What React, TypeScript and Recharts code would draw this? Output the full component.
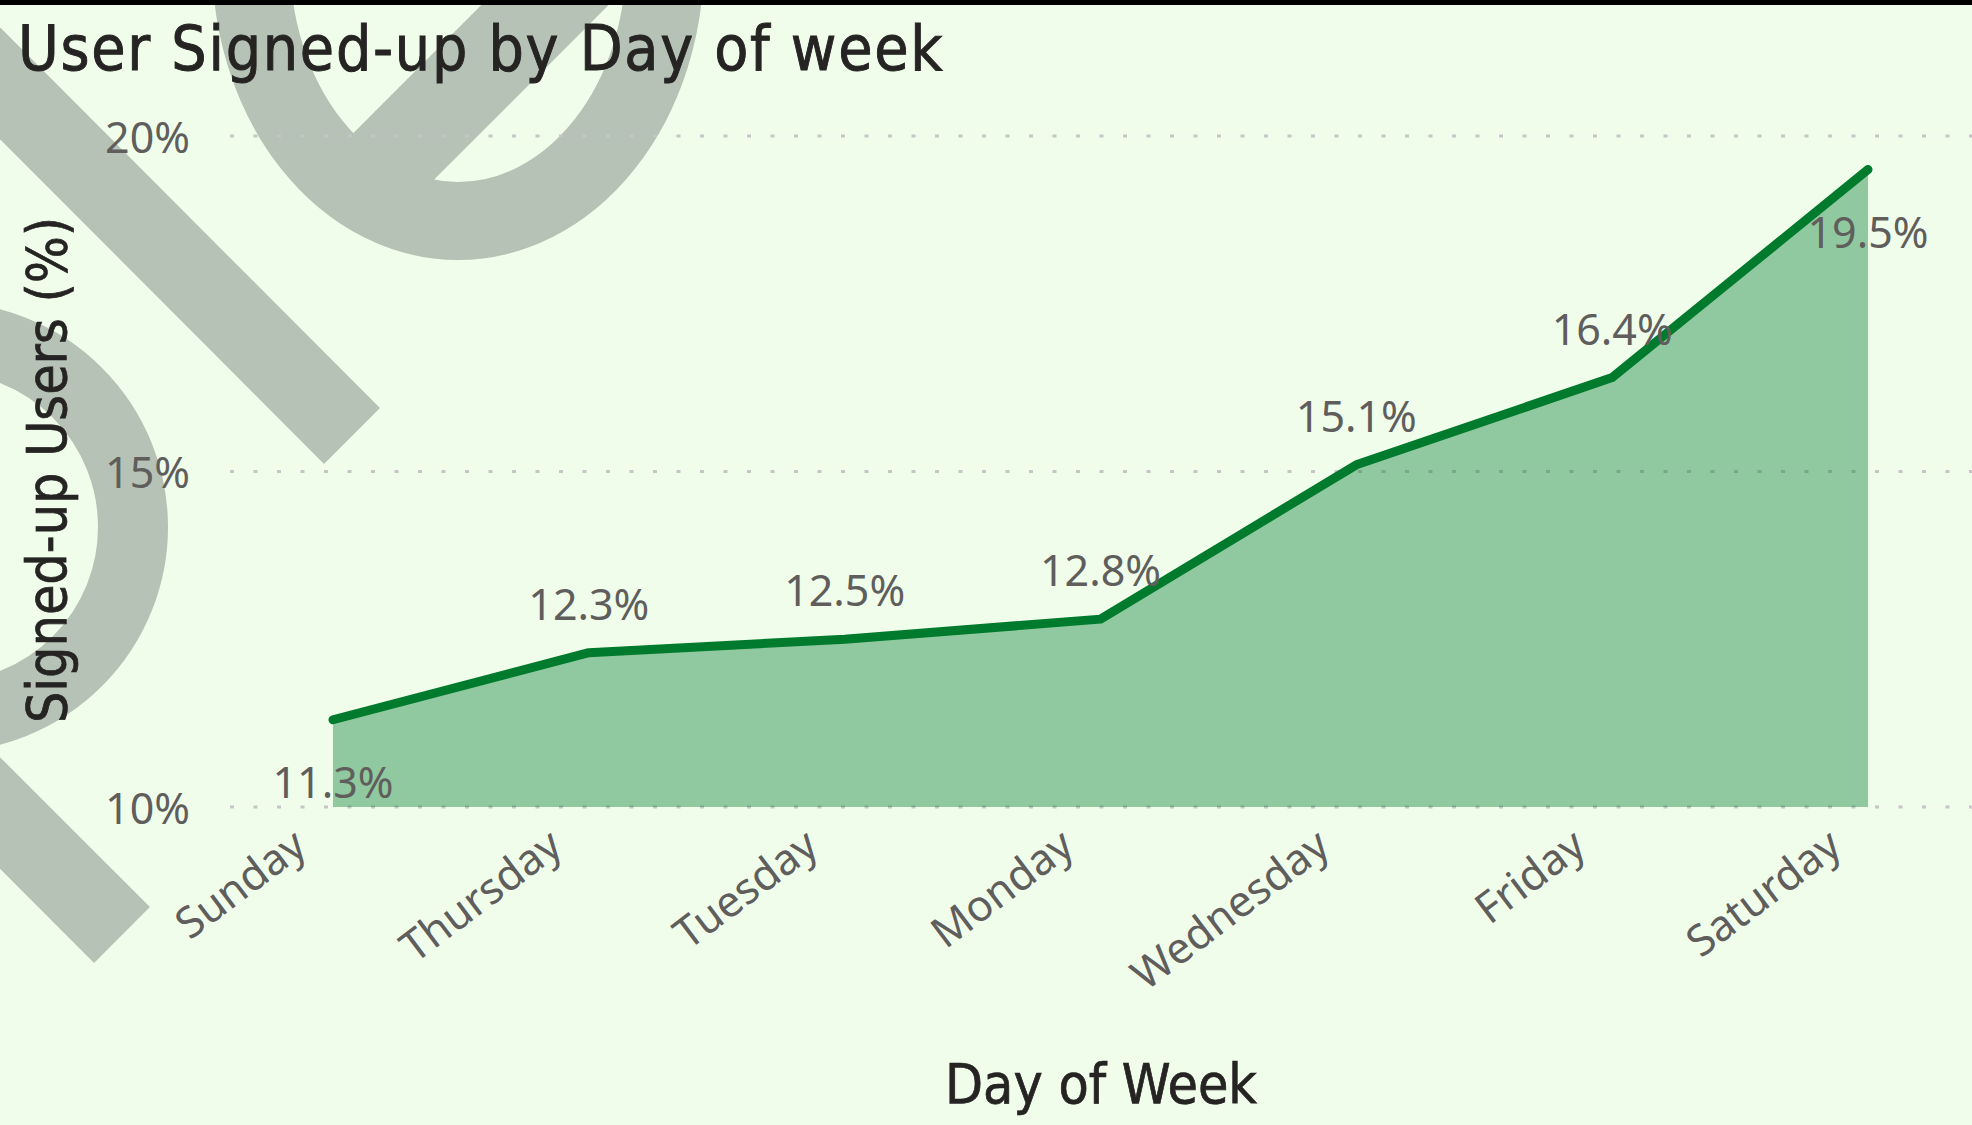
import { AreaChart, Area, XAxis, YAxis, CartesianGrid, LabelList } from "recharts";

const days = ["Sunday", "Thursday", "Tuesday", "Monday", "Wednesday", "Friday", "Saturday"];
const signupPct = [11.3, 12.3, 12.5, 12.8, 15.1, 16.4, 19.5];
const yTicks = [10, 15, 20];

const data = days.map((day, i) => ({ day, pct: signupPct[i] }));

const W = 1972;
const H = 1125;
const BG = "#f0fdeb";
const MARK = "#b6c2b5";
const LINE = "#007a2c";
const LABEL = "#605e5c";
const DARK = "#252423";
const labelFont = "'Noto Sans', 'Open Sans', sans-serif";
const dinFont = "'DejaVu Sans Condensed', 'DejaVu Sans', sans-serif";

function YTick({ x, y, payload }: any) {
  return (
    <text x={x - 32} y={y} textAnchor="end" dominantBaseline="central" fontSize={43} fontFamily={labelFont} fill={LABEL}>
      {payload.value}%
    </text>
  );
}

function XTick({ x, y, payload }: any) {
  return (
    <g transform={`translate(${x - 24},${y + 36}) rotate(-37)`}>
      <text x={0} y={0} textAnchor="end" fontSize={43} fontFamily={labelFont} fill={LABEL}>
        {payload.value}
      </text>
    </g>
  );
}

function PointLabel(props: any) {
  const { x, y, value, index } = props;
  // first and last labels sit under the line, the rest above
  const below = index === 0 || index === days.length - 1;
  return (
    <text x={x} y={below ? y + 78 : y - 33} textAnchor="middle" fontSize={43} fontFamily={labelFont} fill={LABEL}>
      {Number(value).toFixed(1)}%
    </text>
  );
}

// faint background watermark shapes
function Watermark() {
  return (
    <svg width={W} height={H} style={{ position: "absolute", left: 0, top: 0 }}>
      <rect x={0} y={0} width={W} height={H} fill={BG} />
      <line x1={-100} y1={-17} x2={352} y2={436} stroke={MARK} strokeWidth={79} />
      <line x1={-100} y1={713} x2={122} y2={935} stroke={MARK} strokeWidth={79} />
      <ellipse cx={458} cy={-40} rx={207} ry={261} fill="none" stroke={MARK} strokeWidth={78} />
      <line x1={360} y1={190} x2={760} y2={-210} stroke={MARK} strokeWidth={90} />
      <circle cx={-57} cy={527} r={190} fill="none" stroke={MARK} strokeWidth={70} />
    </svg>
  );
}

export default function App() {
  return (
    <div style={{ position: "absolute", left: 0, top: 0, width: W, height: H, overflow: "hidden" }}>
      <Watermark />
      <div style={{ position: "absolute", left: 0, top: 0 }}>
        <AreaChart width={W} height={H} data={data} margin={{ top: 136, right: 0, left: 0, bottom: 0 }}>
          <CartesianGrid vertical={false} stroke="#c6c6c6" strokeWidth={3} strokeDasharray="4 19.5" />
          <XAxis
            dataKey="day"
            height={318}
            axisLine={false}
            tickLine={false}
            interval={0}
            padding={{ left: 103, right: 104 }}
            tick={<XTick />}
          />
          <YAxis
            width={230}
            domain={[10, 20]}
            ticks={yTicks}
            axisLine={false}
            tickLine={false}
            tick={<YTick />}
          />
          <Area
            type="linear"
            dataKey="pct"
            stroke={LINE}
            strokeWidth={9}
            strokeLinecap="round"
            strokeLinejoin="round"
            fill={LINE}
            fillOpacity={0.4}
            baseValue={10}
            dot={false}
            activeDot={false}
            isAnimationActive={false}
          >
            <LabelList dataKey="pct" content={<PointLabel />} />
          </Area>
        </AreaChart>
      </div>
      <svg width={W} height={H} style={{ position: "absolute", left: 0, top: 0, pointerEvents: "none" }}>
        <rect x={0} y={0} width={W} height={5} fill="#000" />
        <text x={18} y={70} fontSize={62} letterSpacing={1.7} fontFamily={dinFont} fill={DARK} stroke={DARK} strokeWidth={0.9}>
          User Signed-up by Day of week
        </text>
        <text transform="translate(66,470) rotate(-90)" textAnchor="middle" fontSize={55} fontFamily={dinFont} fill={DARK} stroke={DARK} strokeWidth={0.7}>
          Signed-up Users (%)
        </text>
        <text x={1101} y={1103} textAnchor="middle" fontSize={55} fontFamily={dinFont} fill={DARK} stroke={DARK} strokeWidth={0.7}>
          Day of Week
        </text>
      </svg>
    </div>
  );
}
